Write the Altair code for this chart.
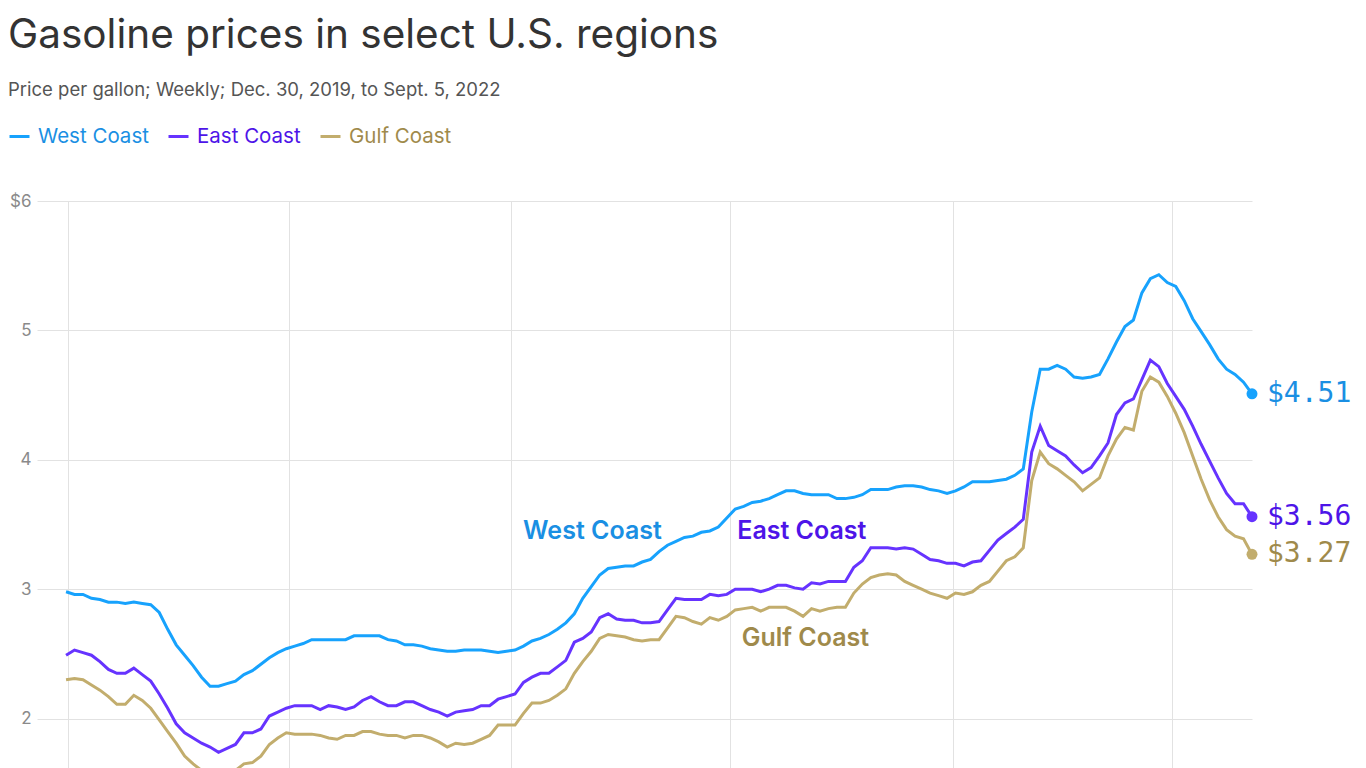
import altair as alt
import pandas as pd

# ---- data ----
dates = pd.date_range("2019-12-30", periods=141, freq="7D").strftime("%Y-%m-%d").tolist()

west = [2.98, 2.96, 2.96, 2.93, 2.92, 2.90, 2.90, 2.89, 2.90, 2.89,
        2.88, 2.82, 2.69, 2.57, 2.49, 2.41, 2.32, 2.25, 2.25, 2.27,
        2.29, 2.34, 2.37, 2.42, 2.47, 2.51, 2.54, 2.56, 2.58, 2.61,
        2.61, 2.61, 2.61, 2.61, 2.64, 2.64, 2.64, 2.64, 2.61, 2.60,
        2.57, 2.57, 2.56, 2.54, 2.53, 2.52, 2.52, 2.53, 2.53, 2.53,
        2.52, 2.51, 2.52, 2.53, 2.56, 2.60, 2.62, 2.65, 2.69, 2.74,
        2.81, 2.93, 3.02, 3.11, 3.16, 3.17, 3.18, 3.18, 3.21, 3.23,
        3.29, 3.34, 3.37, 3.40, 3.41, 3.44, 3.45, 3.48, 3.55, 3.62,
        3.64, 3.67, 3.68, 3.70, 3.73, 3.76, 3.76, 3.74, 3.73, 3.73,
        3.73, 3.70, 3.70, 3.71, 3.73, 3.77, 3.77, 3.77, 3.79, 3.80,
        3.80, 3.79, 3.77, 3.76, 3.74, 3.76, 3.79, 3.83, 3.83, 3.83,
        3.84, 3.85, 3.88, 3.93, 4.37, 4.70, 4.70, 4.73, 4.70, 4.64,
        4.63, 4.64, 4.66, 4.78, 4.91, 5.03, 5.08, 5.29, 5.40, 5.43,
        5.37, 5.34, 5.23, 5.09, 4.99, 4.89, 4.78, 4.70, 4.66, 4.60,
        4.51]

east = [2.49, 2.53, 2.51, 2.49, 2.44, 2.38, 2.35, 2.35, 2.39, 2.34,
        2.29, 2.19, 2.08, 1.96, 1.89, 1.85, 1.81, 1.78, 1.74, 1.77,
        1.80, 1.89, 1.89, 1.92, 2.02, 2.05, 2.08, 2.10, 2.10, 2.10,
        2.07, 2.10, 2.09, 2.07, 2.09, 2.14, 2.17, 2.13, 2.10, 2.10,
        2.13, 2.13, 2.10, 2.07, 2.05, 2.02, 2.05, 2.06, 2.07, 2.10,
        2.10, 2.15, 2.17, 2.19, 2.28, 2.32, 2.35, 2.35, 2.40, 2.45,
        2.59, 2.62, 2.67, 2.78, 2.81, 2.77, 2.76, 2.76, 2.74, 2.74,
        2.75, 2.84, 2.93, 2.92, 2.92, 2.92, 2.96, 2.95, 2.96, 3.00,
        3.00, 3.00, 2.98, 3.00, 3.03, 3.03, 3.01, 3.00, 3.05, 3.04,
        3.06, 3.06, 3.06, 3.17, 3.22, 3.32, 3.32, 3.32, 3.31, 3.32,
        3.31, 3.27, 3.23, 3.22, 3.20, 3.20, 3.18, 3.21, 3.22, 3.30,
        3.38, 3.43, 3.48, 3.54, 4.06, 4.26, 4.11, 4.07, 4.03, 3.96,
        3.90, 3.94, 4.03, 4.13, 4.35, 4.44, 4.47, 4.62, 4.77, 4.72,
        4.59, 4.49, 4.39, 4.26, 4.12, 3.99, 3.86, 3.74, 3.66, 3.66,
        3.56]

gulf = [2.30, 2.31, 2.30, 2.26, 2.22, 2.17, 2.11, 2.11, 2.18, 2.14,
        2.08, 1.99, 1.90, 1.81, 1.71, 1.65, 1.60, 1.57, 1.55, 1.57,
        1.60, 1.65, 1.66, 1.71, 1.80, 1.85, 1.89, 1.88, 1.88, 1.88,
        1.87, 1.85, 1.84, 1.87, 1.87, 1.90, 1.90, 1.88, 1.87, 1.87,
        1.85, 1.87, 1.87, 1.85, 1.82, 1.78, 1.81, 1.80, 1.81, 1.84,
        1.87, 1.95, 1.95, 1.95, 2.04, 2.12, 2.12, 2.14, 2.18, 2.23,
        2.35, 2.44, 2.52, 2.62, 2.65, 2.64, 2.63, 2.61, 2.60, 2.61,
        2.61, 2.70, 2.79, 2.78, 2.75, 2.73, 2.78, 2.76, 2.79, 2.84,
        2.85, 2.86, 2.83, 2.86, 2.86, 2.86, 2.83, 2.79, 2.85, 2.83,
        2.85, 2.86, 2.86, 2.97, 3.04, 3.09, 3.11, 3.12, 3.11, 3.06,
        3.03, 3.00, 2.97, 2.95, 2.93, 2.97, 2.96, 2.98, 3.03, 3.06,
        3.14, 3.22, 3.25, 3.32, 3.84, 4.06, 3.97, 3.93, 3.88, 3.83,
        3.76, 3.81, 3.86, 4.03, 4.16, 4.25, 4.23, 4.53, 4.64, 4.60,
        4.49, 4.36, 4.21, 4.03, 3.85, 3.69, 3.56, 3.46, 3.41, 3.39,
        3.27]

regions = ["West Coast", "East Coast", "Gulf Coast"]
line_colors = ["#17a2fd", "#6633ff", "#c2ad6d"]
text_colors = ["#1a8fe3", "#4d14e8", "#9f8a4b"]
end_labels = ["$4.51", "$3.56", "$3.27"]

ann_dates = ["2021-03-09", "2021-08-29", "2021-09-01"]
ann_prices = [3.452, 3.452, 2.625]

y_ticks = [2, 3, 4, 5, 6]

TITLE = "Gasoline prices in select U.S. regions"
SUBTITLE = "Price per gallon; Weekly; Dec. 30, 2019, to Sept. 5, 2022"

# ---- tables ----
series = [west, east, gulf]
rows = []
for r, vals, lc, tc in zip(regions, series, line_colors, text_colors):
    for d, v in zip(dates, vals):
        rows.append({"date": d, "region": r, "price": v, "lcolor": lc, "tcolor": tc})
df = pd.DataFrame(rows)

last = pd.DataFrame({
    "date": [dates[-1]] * 3,
    "region": regions,
    "price": [s[-1] for s in series],
    "label": end_labels,
    "lcolor": line_colors,
    "tcolor": text_colors,
})

ann = pd.DataFrame({"date": ann_dates, "price": ann_prices, "label": regions, "tcolor": text_colors})

W, H = 1215, 647
LEFT, TOP = 29, 193

x_scale = alt.Scale(
    type="utc",
    domain=[alt.DateTime(year=2019, month=12, date=6, utc=True),
            alt.DateTime(year=2022, month=9, date=5, utc=True)],
)
grid_dates = [alt.DateTime(year=y, month=m, date=1, utc=True)
              for y, m in [(2020, 1), (2020, 7), (2021, 1), (2021, 7), (2022, 1), (2022, 7)]]
x_enc = alt.X("date:T", scale=x_scale,
              axis=alt.Axis(values=grid_dates, labels=False, ticks=False, domain=False,
                            title=None, grid=True, gridColor="#e2e2e2"))
y_scale = alt.Scale(domain=[1, 6], nice=False, zero=False)
y_enc = alt.Y("price:Q", scale=y_scale,
              axis=alt.Axis(values=y_ticks,
                            labelExpr="datum.value == 6 ? '$6' : format(datum.value, 'd')",
                            title=None, ticks=False, domain=False, labelColor="#8a8a8a",
                            labelFontSize=17, labelFont="Inter", labelPadding=6,
                            gridColor="#e2e2e2"))

label_color_expr = ("datum.value == 'West Coast' ? '%s' : datum.value == 'East Coast' ? '%s' : '%s'"
                    % tuple(text_colors))

lines = alt.Chart(df).mark_line(strokeWidth=3, clip=True).encode(
    x=x_enc,
    y=y_enc,
    color=alt.Color("region:N",
                    scale=alt.Scale(domain=regions, range=line_colors),
                    sort=regions,
                    legend=alt.Legend(orient="none", legendX=-LEFT, legendY=-76,
                                      direction="horizontal", title=None,
                                      symbolType="stroke", symbolSize=400,
                                      symbolStrokeWidth=3, labelFontSize=20.5,
                                      labelFont="Inter", labelOffset=7,
                                      columnPadding=13,
                                      labelColor=alt.ExprRef(label_color_expr))),
    detail="region:N",
)

dots = alt.Chart(last).mark_circle(size=120, opacity=1).encode(
    x="date:T", y="price:Q", color=alt.Color("lcolor:N", scale=None))

end_text = alt.Chart(last).mark_text(align="left", baseline="middle", dx=15,
                                     font="DejaVu Sans Mono", fontSize=28).encode(
    x="date:T", y="price:Q", text="label:N", color=alt.Color("tcolor:N", scale=None))

ann_text = alt.Chart(ann).mark_text(align="center", baseline="middle", font="Inter",
                                    fontSize=25, fontWeight=600).encode(
    x="date:T", y="price:Q", text="label:N", color=alt.Color("tcolor:N", scale=None))

title = alt.Chart(pd.DataFrame({"t": [TITLE]})).mark_text(
    align="left", baseline="alphabetic", font="Inter", fontSize=40.5, color="#333333").encode(
    x=alt.value(-LEFT), y=alt.value(-153.5), text="t:N")

subtitle = alt.Chart(pd.DataFrame({"t": [SUBTITLE]})).mark_text(
    align="left", baseline="alphabetic", font="Inter", fontSize=18.5, color="#555555").encode(
    x=alt.value(-LEFT), y=alt.value(-105), text="t:N")

chart = alt.layer(lines, dots, end_text, ann_text, title, subtitle).properties(
    width=W, height=H,
    autosize=alt.AutoSizeParams(type="none"),
    padding={"left": LEFT, "top": TOP, "right": 100, "bottom": 0},
).configure_view(stroke=None)

chart.save("out.html", embed_options={"renderer": "svg", "actions": False})
